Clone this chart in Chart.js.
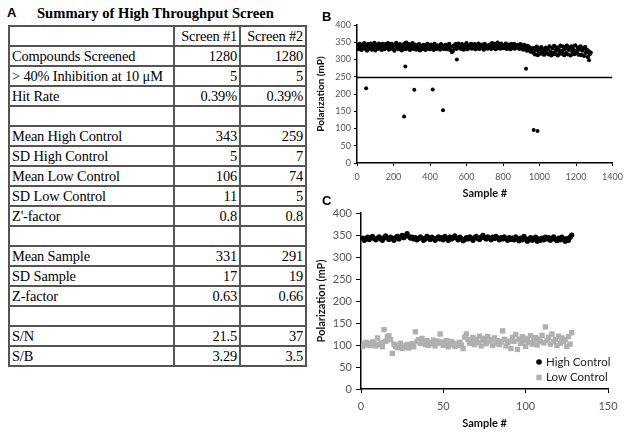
<!DOCTYPE html>
<html>
<head>
<meta charset="utf-8">
<script src="https://cdn.jsdelivr.net/npm/chart.js"></script>
<style>
  html, body { margin: 0; padding: 0; background: #fff; }
  #page { position: relative; width: 629px; height: 435px; overflow: hidden; background: #fff; }
  .panel { position: absolute; font-family: "Liberation Sans", Arial, sans-serif; font-weight: bold; font-size: 13px; line-height: 16px; color: #000; z-index: 2; }
  #title { position: absolute; left: 37px; top: 4px; font-family: "Liberation Serif", "Times New Roman", serif; font-weight: bold; font-size: 14.6px; line-height: 18px; color: #000; }
  #summary { position: absolute; left: 8px; top: 25px; width: 297px; table-layout: fixed; border-collapse: collapse; font-family: "Liberation Serif", "Times New Roman", serif; font-size: 14.4px; letter-spacing: -0.15px; color: #000; }
  #summary td { border: 2px solid #555; height: 18px; padding: 0 2px 0 2px; line-height: 17px; white-space: nowrap; overflow: hidden; }
  #summary td.num { text-align: right; }
  canvas { position: absolute; }
</style>
</head>
<body>
<div id="page">
  <div class="panel" style="left:7px; top:5px;">A</div>
  <div id="title">Summary of High Throughput Screen</div>
  <table id="summary">
    <colgroup><col style="width:165px"><col style="width:66px"><col style="width:66px"></colgroup>
  </table>

  <div class="panel" style="left:322px; top:9px;">B</div>
  <canvas id="screenChart" width="317" height="200" style="left:312px; top:0px;"></canvas>

  <div class="panel" style="left:322px; top:193px;">C</div>
  <canvas id="controlChart" width="317" height="245" style="left:312px; top:190px;"></canvas>
</div>

<script>
// Table A
var summaryHeader = ["", "Screen #1", "Screen #2"];
var summaryLabels = ["Compounds Screened", "> 40% Inhibition at 10 \u03bcM", "Hit Rate", "",
  "Mean High Control", "SD High Control", "Mean Low Control", "SD Low Control", "Z'-factor", "",
  "Mean Sample", "SD Sample", "Z-factor", "", "S/N", "S/B"];
var screen1 = ["1280", "5", "0.39%", "", "343", "5", "106", "11", "0.8", "", "331", "17", "0.63", "", "21.5", "3.29"];
var screen2 = ["1280", "5", "0.39%", "", "259", "7", "74", "5", "0.8", "", "291", "19", "0.66", "", "37", "3.5"];

// Panel B: samples read every 5th well, plus the hits below the band
var screenStep = 5;
var screenValues = [
  341, 330, 345, 336, 328, 343, 334, 347, 331, 339, 326, 344, 337, 332, 346, 329,
  340, 335, 348, 327, 343, 338, 331, 346, 334, 341, 328, 345, 336, 330, 344, 339,
  333, 347, 329, 342, 337, 345, 331, 340, 326, 343, 348, 334, 339, 330, 344, 336,
  327, 341, 335, 346, 330, 349, 338, 332, 344, 328, 340, 335, 347, 331, 337, 342,
  329, 338, 333, 344, 327, 340, 335, 331, 342, 336, 328, 339, 345, 332, 337, 330,
  343, 334, 339, 328, 345, 336, 331, 341, 333, 338, 329, 344, 335, 340, 331, 337,
  342, 330, 339, 334, 345, 328, 337, 322, 325, 340, 333, 344, 331, 338, 346, 335,
  339, 331, 344, 336, 329, 342, 334, 347, 330, 338, 341, 333, 345, 332, 339, 336,
  344, 330, 338, 335, 346, 331, 340, 333, 343, 337, 329, 345, 334, 339, 332, 341,
  336, 343, 331, 347, 338, 334, 345, 330, 340, 349, 335, 342, 332, 346, 337, 333,
  341, 334, 346, 331, 339, 343, 336, 330, 344, 338, 333, 345, 332, 340, 335, 342,
  338, 331, 344, 336, 340, 329, 342, 334, 337, 326, 339, 331, 335, 323, 328, 332,
  320, 333, 315, 328, 337, 313, 324, 331, 317, 336, 321, 329, 314, 326, 334, 318,
  330, 315, 338, 322, 312, 333, 319, 339, 316, 327, 335, 312, 329, 321, 340, 317,
  325, 337, 313, 331, 318, 340, 315, 328, 334, 312, 338, 322, 330, 316, 341, 324,
  318, 335, 314, 329, 338, 313, 326, 332, 311, 336, 320, 328, 307, 323, 316, 320
];
var hitSamples = [50, 258, 265, 314, 415, 471, 547, 926, 968, 989, 1271];
var hitValues = [217, 135, 280, 212, 213, 153, 300, 273, 96, 93, 298];
var cutoff = 248;

// Panel C: control wells 1..128
var highControl = [
  343, 338, 341, 345, 340, 344, 347, 342, 339, 343, 346, 341, 338, 344, 348, 343,
  340, 345, 342, 338, 344, 347, 341, 346, 349, 344, 348, 353, 347, 343, 345, 341,
  344, 339, 342, 346, 343, 338, 341, 347, 344, 340, 345, 342, 338, 343, 346, 341,
  344, 339, 347, 342, 338, 345, 341, 344, 348, 343, 339, 345, 342, 337, 340, 344,
  341, 346, 343, 338, 344, 347, 342, 340, 345, 349, 344, 341, 346, 343, 339, 345,
  342, 347, 343, 339, 344, 341, 346, 342, 338, 344, 340, 343, 339, 346, 341, 337,
  343, 339, 347, 342, 336, 340, 344, 338, 342, 345, 336, 341, 338, 343, 339, 345,
  341, 344, 338, 342, 346, 340, 337, 343, 339, 345, 341, 336, 342, 338, 345, 350
];
var lowControl = [
  97, 102, 106, 100, 104, 99, 107, 103, 98, 116, 101, 105, 96, 135, 108, 119,
  121, 112, 81, 102, 97, 94, 100, 104, 92, 98, 95, 101, 93, 99, 103, 96,
  130, 108, 112, 104, 115, 107, 101, 110, 99, 106, 103, 111, 98, 109, 104, 125,
  107, 99, 103, 110, 96, 105, 108, 101, 97, 104, 99, 106, 100, 92, 118, 125,
  112, 104, 109, 117, 101, 113, 106, 120, 98, 111, 115, 103, 119, 107, 112, 99,
  116, 104, 110, 101, 107, 132, 113, 98, 105, 109, 92, 117, 108, 124, 90, 113,
  104, 119, 109, 97, 115, 106, 121, 102, 111, 117, 100, 113, 108, 122, 105, 141,
  110, 118, 102, 125, 107, 113, 99, 120, 104, 116, 108, 112, 97, 119, 102, 128
];

// build table
var table = document.getElementById("summary");
var rows = [summaryHeader];
for (var i = 0; i < summaryLabels.length; i++) {
  rows.push([summaryLabels[i], screen1[i], screen2[i]]);
}
rows.forEach(function (r) {
  var tr = document.createElement("tr");
  r.forEach(function (txt, j) {
    var td = document.createElement("td");
    td.textContent = txt;
    if (j > 0) td.className = "num";
    tr.appendChild(td);
  });
  table.appendChild(tr);
});

var screenPoints = screenValues.map(function (v, i) { return { x: (i + 1) * screenStep, y: v }; });
var hitPoints = hitSamples.map(function (s, i) { return { x: s, y: hitValues[i] }; });
var highPoints = highControl.map(function (v, i) { return { x: i + 1, y: v }; });
var lowPoints = lowControl.map(function (v, i) { return { x: i + 1, y: v }; });

function axis(min, max, step, tickSize, tickLen, tickPad, titleText, titleSize, titlePad, fitSize, horizontal) {
  return {
    type: "linear",
    min: min,
    max: max,
    ticks: {
      stepSize: step, color: "#555", font: { family: "Lato", size: tickSize }, padding: tickPad, maxRotation: 0,
      callback: function (v) { return String(v); }
    },
    grid: { drawOnChartArea: false, drawTicks: true, tickLength: tickLen, color: "#000", lineWidth: 1 },
    border: { color: "#000", width: 1.5 },
    title: { display: true, text: titleText, color: "#111", font: { family: "Lato", size: titleSize, weight: "bold" }, padding: titlePad },
    afterFit: function (s) { if (horizontal) { s.height = fitSize; } else { s.width = fitSize; } }
  };
}

new Chart(document.getElementById("screenChart"), {
  type: "scatter",
  data: {
    datasets: [
      { label: "Samples", data: screenPoints, pointRadius: 2.2, pointBorderWidth: 0, backgroundColor: "#000", borderColor: "#000" },
      { label: "Hits", data: hitPoints, pointRadius: 2, pointBorderWidth: 0, backgroundColor: "#000", borderColor: "#000" },
      { type: "line", label: "Cutoff", data: [{ x: 0, y: cutoff }, { x: 1400, y: cutoff }], borderColor: "#000", borderWidth: 1.5, pointRadius: 0, fill: false }
    ]
  },
  options: {
    responsive: false,
    animation: false,
    devicePixelRatio: 1,
    layout: { padding: { top: 25, right: 14 } },
    plugins: { legend: { display: false }, tooltip: { enabled: false } },
    scales: {
      x: axis(0, 1400, 200, 9, 3, 6, "Sample #", 11, { top: 0, bottom: 0 }, 37, true),
      y: axis(0, 400, 50, 9, 3, 3, "Polarization (mP)", 10, { top: 3, bottom: 0 }, 45, false)
    }
  }
});

// legend drawn inside the plot, lower right
var innerLegend = {
  id: "innerLegend",
  afterDraw: function (chart) {
    var ctx = chart.ctx, area = chart.chartArea;
    ctx.save();
    ctx.font = "11.5px Lato";
    ctx.textBaseline = "middle";
    chart.data.datasets.forEach(function (ds, i) {
      var x = area.right - 69, y = area.bottom - 27 + i * 15.5;
      ctx.fillStyle = ds.backgroundColor;
      if (ds.pointStyle === "rect") {
        ctx.fillRect(x - 2.7, y - 2.7, 5.4, 5.4);
      } else {
        ctx.beginPath();
        ctx.arc(x, y, 2.8, 0, Math.PI * 2);
        ctx.fill();
      }
      ctx.fillStyle = "#222";
      ctx.fillText(ds.label, x + 7, y);
    });
    ctx.restore();
  }
};

new Chart(document.getElementById("controlChart"), {
  type: "scatter",
  data: {
    datasets: [
      { label: "High Control", data: highPoints, pointStyle: "circle", pointRadius: 2.6, pointBorderWidth: 0, backgroundColor: "#000", borderColor: "#000" },
      { label: "Low Control", data: lowPoints, pointStyle: "rect", pointRadius: 3.8, pointBorderWidth: 0, backgroundColor: "#b0b0b0", borderColor: "#b0b0b0" }
    ]
  },
  options: {
    responsive: false,
    animation: false,
    devicePixelRatio: 1,
    layout: { padding: { top: 23, right: 21 } },
    plugins: { legend: { display: false }, tooltip: { enabled: false } },
    scales: {
      x: axis(0, 150, 50, 11, 4, 7, "Sample #", 11, { top: 0, bottom: 5 }, 46, true),
      y: axis(0, 400, 50, 11, 5, 4, "Polarization (mP)", 11, { top: 3, bottom: 0 }, 49, false)
    }
  },
  plugins: [innerLegend]
});
</script>
</body>
</html>
